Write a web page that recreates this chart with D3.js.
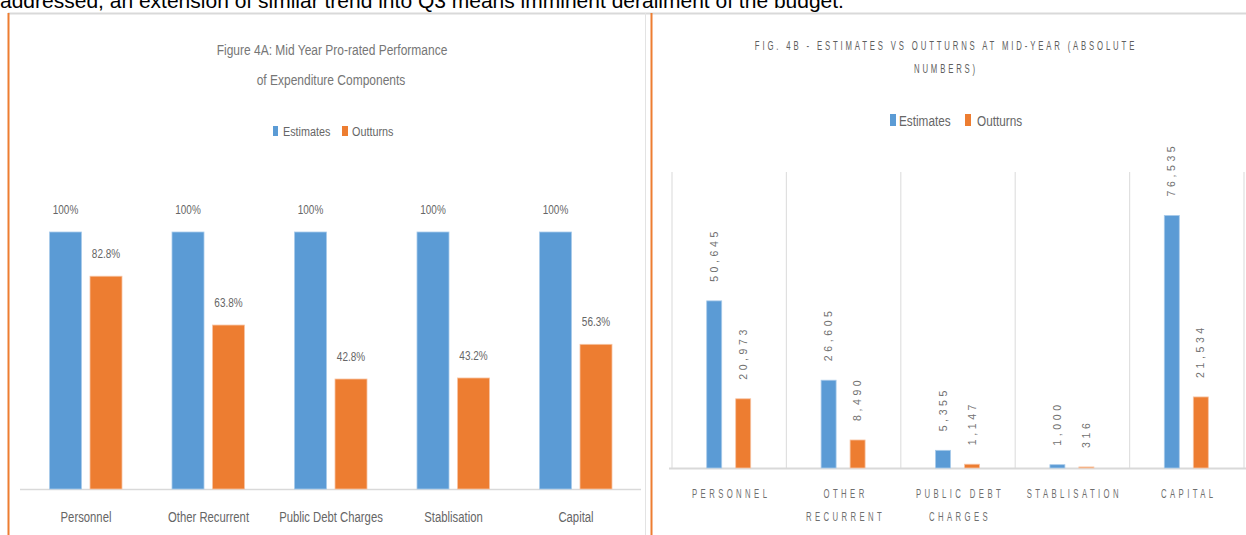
<!DOCTYPE html>
<html>
<head>
<meta charset="utf-8">
<script src="https://cdn.jsdelivr.net/npm/d3@7"></script>
<style>
  html, body { margin: 0; padding: 0; background: #fff; overflow: hidden; }
  svg { display: block; font-family: "Liberation Sans", Arial, sans-serif; }
</style>
</head>
<body>
<div id="chart"></div>
<script>
// --- data ---
const leftCategories = ['Personnel', 'Other Recurrent', 'Public Debt Charges', 'Stablisation', 'Capital']
const leftEstimates = [1, 1, 1, 1, 1]
const leftOutturns = [0.828, 0.638, 0.428, 0.432, 0.563]

const rightCategories = [['PERSONNEL'], ['OTHER', 'RECURRENT'], ['PUBLIC DEBT', 'CHARGES'], ['STABLISATION'], ['CAPITAL']]
const rightEstimates = [50645, 26605, 5355, 1000, 76535]
const rightOutturns = [20973, 8490, 1147, 316, 21534]

const seriesNames = ['Estimates', 'Outturns']
const leftTitle = ['Figure 4A: Mid Year Pro-rated Performance', 'of Expenditure Components']
const rightTitle = ['FIG. 4B - ESTIMATES VS OUTTURNS AT MID-YEAR (ABSOLUTE', 'NUMBERS)']
const headline = 'addressed, an extension of similar trend into Q3 means imminent derailment of the budget.'

const BLUE = '#5b9bd5'
const ORANGE = '#ed7d31'
const colors = [BLUE, ORANGE]

const width = 1246
const height = 535

const svg = d3.select('#chart').append('svg')
  .attr('width', width)
  .attr('height', height)

// condensed text helper: scales glyphs horizontally
const label = (g, x, y, txt, opt = {}) => {
  const t = g.append('text')
    .attr('transform', `translate(${x},${y}) scale(${opt.sx ?? 1},1)`)
    .attr('text-anchor', opt.anchor || 'middle')
    .attr('font-size', opt.size || 13)
    .attr('fill', opt.fill || '#595959')
    .text(txt)
  if (opt.ls) t.attr('letter-spacing', opt.ls)
  return t
}

// page bits around the charts
svg.append('text')
  .attr('x', 0).attr('y', 8)
  .attr('font-size', 21)
  .attr('fill', '#000')
  .text(headline)

svg.append('line')
  .attr('x1', 8).attr('x2', width).attr('y1', 13.5).attr('y2', 13.5)
  .attr('stroke', '#d9d9d9').attr('stroke-width', 2)

svg.append('line')
  .attr('x1', 645.5).attr('x2', 645.5).attr('y1', 13).attr('y2', height)
  .attr('stroke', '#e3e3e3').attr('stroke-width', 1)

;[8.5, 651.5].forEach((xv) => {
  svg.append('line')
    .attr('x1', xv).attr('x2', xv).attr('y1', 13).attr('y2', height)
    .attr('stroke', ORANGE).attr('stroke-width', 2)
})

// ---------------- left chart (percentages) ----------------
{
  const g = svg.append('g')
  const x = d3.scaleBand().domain(leftCategories).range([24.75, 637.25])
  const y = d3.scaleLinear().domain([0, 1]).range([489, 232])
  const barW = 32
  const offsets = [-20.5, 20]
  const fmt = [d3.format('.0%'), d3.format('.1%')]

  label(g, 332, 55, leftTitle[0], { size: 15, sx: 0.8, fill: '#767676' })
  label(g, 331, 85, leftTitle[1], { size: 15, sx: 0.8, fill: '#767676' })

  // legend
  const lg = g.append('g')
  lg.append('rect').attr('x', 273).attr('y', 126).attr('width', 5).attr('height', 10).attr('fill', BLUE)
  label(lg, 283, 136, seriesNames[0], { size: 13.5, sx: 0.8, anchor: 'start', fill: '#666' })
  lg.append('rect').attr('x', 342).attr('y', 126).attr('width', 6).attr('height', 10).attr('fill', ORANGE)
  label(lg, 352, 136, seriesNames[1], { size: 13.5, sx: 0.8, anchor: 'start', fill: '#666' })

  g.append('line')
    .attr('x1', 20).attr('x2', 641).attr('y1', y(0) + 0.5).attr('y2', y(0) + 0.5)
    .attr('stroke', '#d9d9d9').attr('stroke-width', 1.5)

  ;[leftEstimates, leftOutturns].forEach((vals, s) => {
    vals.forEach((v, i) => {
      const cx = x(leftCategories[i]) + x.bandwidth() / 2 + offsets[s]
      g.append('rect')
        .attr('x', cx - barW / 2)
        .attr('y', y(v))
        .attr('width', barW)
        .attr('height', y(0) - y(v))
        .attr('fill', colors[s])
        .attr('stroke', s ? '#f7c4a3' : '#a9cbea')
        .attr('stroke-width', 0.8)
      label(g, cx, y(v) - 18, fmt[s](v), { size: 13.5, sx: 0.74, fill: '#666' })
    })
  })

  leftCategories.forEach((c) => {
    label(g, x(c) + x.bandwidth() / 2, 522, c, { size: 14.5, sx: 0.78, fill: '#666' })
  })
}

// ---------------- right chart (absolute numbers) ----------------
{
  const g = svg.append('g')
  const keys = rightCategories.map((d) => d.join(' '))
  const x = d3.scaleBand().domain(keys).range([672, 1244])
  const y = d3.scaleLinear().domain([0, 90000]).range([468, 171])
  const barW = 15
  const offsets = [-15, 14]
  const fmt = d3.format(',')

  label(g, 946, 50, rightTitle[0], { size: 12.5, sx: 0.62, ls: 4.6, fill: '#5e5e5e' })
  label(g, 946, 73, rightTitle[1], { size: 12.5, sx: 0.62, ls: 4.6, fill: '#5e5e5e' })

  const lg = g.append('g')
  lg.append('rect').attr('x', 890).attr('y', 114).attr('width', 6).attr('height', 12).attr('fill', BLUE)
  label(lg, 899, 126, seriesNames[0], { size: 15.5, sx: 0.76, anchor: 'start', fill: '#666' })
  lg.append('rect').attr('x', 965).attr('y', 114).attr('width', 6).attr('height', 12).attr('fill', ORANGE)
  label(lg, 977, 126, seriesNames[1], { size: 15.5, sx: 0.76, anchor: 'start', fill: '#666' })

  // category separators
  const bounds = keys.map((k) => x(k)).concat([x.range()[1]])
  bounds.forEach((b) => {
    g.append('line')
      .attr('x1', b).attr('x2', b).attr('y1', 172).attr('y2', y(0))
      .attr('stroke', '#e0e0e0').attr('stroke-width', 1.2)
  })
  g.append('line')
    .attr('x1', 669).attr('x2', width).attr('y1', y(0) + 0.5).attr('y2', y(0) + 0.5)
    .attr('stroke', '#d9d9d9').attr('stroke-width', 1.8)

  ;[rightEstimates, rightOutturns].forEach((vals, s) => {
    vals.forEach((v, i) => {
      const cx = x(keys[i]) + x.bandwidth() / 2 + offsets[s]
      g.append('rect')
        .attr('x', cx - barW / 2)
        .attr('y', y(v))
        .attr('width', barW)
        .attr('height', Math.max(0.8, y(0) - y(v)))
        .attr('fill', colors[s])
        .attr('stroke', s ? '#f7c4a3' : '#a9cbea')
        .attr('stroke-width', 0.8)
      g.append('text')
        .attr('transform', `translate(${cx},${y(v) - 19}) rotate(-90)`)
        .attr('dy', '0.35em')
        .attr('font-size', 10.5)
        .attr('letter-spacing', 3.6)
        .attr('fill', '#6f6f6f')
        .text(fmt(v))
    })
  })

  rightCategories.forEach((lines, i) => {
    const cx = x(keys[i]) + x.bandwidth() / 2
    lines.forEach((ln, j) => {
      label(g, cx + 2, 498 + j * 23, ln, { size: 12.5, sx: 0.62, ls: 5.5, fill: '#6f6f6f' })
    })
  })
}
</script>
</body>
</html>
